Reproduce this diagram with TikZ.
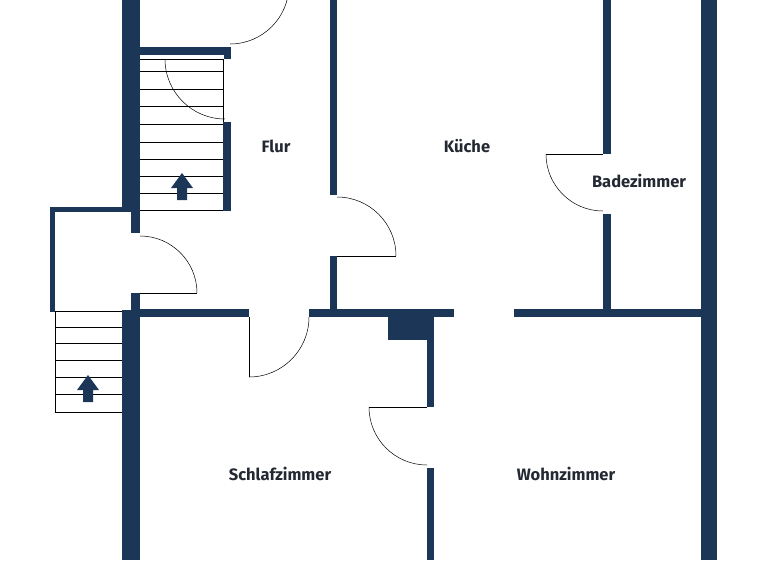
\documentclass[tikz,border=0pt]{standalone}
\usepackage{fontspec}
\setmainfont{Fira Sans}
\definecolor{wall}{RGB}{28,54,88}
\definecolor{txt}{RGB}{35,40,50}
\begin{document}
\begin{tikzpicture}[x=1pt,y=1pt,
  wallfill/.style={fill=wall},
  thin/.style={draw=black,line width=0.5pt},
  lbl/.style={font=\fontsize{16.5}{19}\selectfont\bfseries,text=txt}]
\useasboundingbox (0,0) rectangle (768,-560);
\clip (0,0) rectangle (768,-560);
% walls
\fill[wallfill] (122,0) rectangle (140,-210);
\fill[wallfill] (131,-210) rectangle (140,-233);
\fill[wallfill] (131,-293) rectangle (140,-312);
\fill[wallfill] (122,-310) rectangle (140,-560);
\fill[wallfill] (140,-47) rectangle (231,-55);
\fill[wallfill] (224,-47) rectangle (231,-59);
\fill[wallfill] (223,-122) rectangle (231,-211);
\fill[wallfill] (50,-207) rectangle (131,-212);
\fill[wallfill] (50,-207) rectangle (55,-312);
\fill[wallfill] (140,-309) rectangle (249,-317);
\fill[wallfill] (309,-309) rectangle (454,-317);
\fill[wallfill] (514,-309) rectangle (701,-317);
\fill[wallfill] (701,0) rectangle (717,-560);
\fill[wallfill] (330,0) rectangle (337,-195);
\fill[wallfill] (330,-256) rectangle (337,-310);
\fill[wallfill] (603,0) rectangle (611,-154);
\fill[wallfill] (603,-214) rectangle (611,-310);
\fill[wallfill] (388,-317) rectangle (434,-340);
\fill[wallfill] (427,-317) rectangle (434,-407);
\fill[wallfill] (427,-468) rectangle (434,-560);
% upper stairs
\draw[thin] (223,-59) -- (223,-122);
\foreach \y in {59,71,89,106,124,142,159,176,193,210}
  \draw[thin] (140,-\y) -- (223,-\y);
\fill[wallfill] (182,-173) -- (193,-188) -- (187,-188) -- (187,-200) -- (177,-200) -- (177,-188) -- (171,-188) -- cycle;
% lower stairs
\draw[thin] (55,-311) -- (55,-412);
\foreach \y in {311,327,343,360,377,394,412}
  \draw[thin] (55,-\y) -- (122,-\y);
\fill[wallfill] (88,-375) -- (99,-390) -- (93,-390) -- (93,-402) -- (83,-402) -- (83,-390) -- (77,-390) -- cycle;
% doors
\draw[thin] (230,-44) arc[start angle=-90,end angle=0,radius=59];
\draw[thin] (165,-59) arc[start angle=180,end angle=270,radius=60];
\draw[thin] (140,-236) arc[start angle=90,end angle=0,radius=57];
\draw[thin] (140,-293) -- (197,-293);
\draw[thin] (337,-197) arc[start angle=90,end angle=0,radius=59];
\draw[thin] (337,-256) -- (396,-256);
\draw[thin] (309,-317) arc[start angle=0,end angle=-90,radius=60];
\draw[thin] (249,-317) -- (249,-377);
\draw[thin] (546,-154) arc[start angle=180,end angle=270,radius=57];
\draw[thin] (546,-154) -- (603,-154);
\draw[thin] (369,-407) arc[start angle=180,end angle=270,radius=58];
\draw[thin] (369,-407) -- (427,-407);
% labels
\node[lbl] (flur) at (276,-146) {Flur};
\node[lbl] (kueche) at (467,-146) {Küche};
\node[lbl] (bad) at (639,-181) {Badezimmer};
\node[lbl] (schlaf) at (280,-474) {Schlafzimmer};
\node[lbl] (wohn) at (566,-474) {Wohnzimmer};
\end{tikzpicture}
\end{document}
